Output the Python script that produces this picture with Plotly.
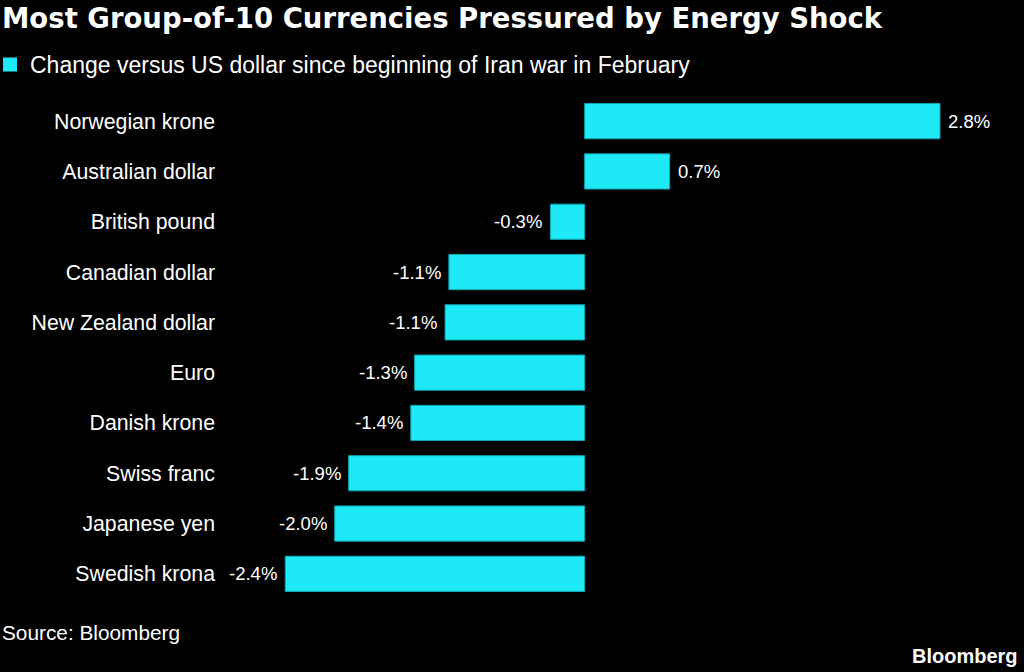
import plotly.graph_objects as go

categories = ["Norwegian krone", "Australian dollar", "British pound", "Canadian dollar",
              "New Zealand dollar", "Euro", "Danish krone", "Swiss franc",
              "Japanese yen", "Swedish krona"]
values = [2.80, 0.67, -0.27, -1.07, -1.10, -1.34, -1.37, -1.86, -1.97, -2.36]
labels = ["2.8%", "0.7%", "-0.3%", "-1.1%", "-1.1%", "-1.3%", "-1.4%", "-1.9%", "-2.0%", "-2.4%"]

W, H = 1024, 672
L, R, T, B = 230, 24, 96, 73
pw, ph = W - L - R, H - T - B

def px(x):
    return (x - L) / pw

def py(y):
    return 1 - (y - T) / ph

FONT = "Liberation Sans"
TFONT = "DejaVu Sans"
CYAN = "#1ee9f6"

fig = go.Figure(go.Bar(
    x=values, y=categories, orientation="h",
    marker=dict(color=CYAN, line=dict(color="#0fa6b3", width=1)),
    width=0.7, showlegend=False,
))

for v, c, t in zip(values, categories, labels):
    fig.add_annotation(x=v, y=c, xref="x", yref="y", text=t, showarrow=False,
                       xanchor="left" if v >= 0 else "right", yanchor="middle",
                       xshift=6 if v >= 0 else -6,
                       font=dict(size=18.5, color="white", family=FONT))

fig.update_layout(
    width=W, height=H,
    margin=dict(l=L, r=R, t=T, b=B),
    paper_bgcolor="black", plot_bgcolor="black",
    font=dict(family=FONT, color="white", size=20),
    xaxis=dict(range=[-2.795, 3.273], visible=False, showgrid=False, zeroline=False),
    yaxis=dict(autorange="reversed", showgrid=False, zeroline=False, showline=False,
               ticks="", tickfont=dict(size=21.3, color="white", family=FONT),
               ticklabelstandoff=14),
)

fig.add_annotation(text="<b>Most Group-of-10 Currencies Pressured by Energy Shock</b>",
                   xref="paper", yref="paper", x=px(0), y=py(18), xanchor="left", yanchor="middle",
                   showarrow=False, font=dict(size=27.5, color="white", family=TFONT))
fig.add_shape(type="rect", xref="paper", yref="paper",
              x0=px(3), x1=px(17), y0=py(57.5), y1=py(71.5),
              fillcolor=CYAN, line=dict(width=0))
fig.add_annotation(text="Change versus US dollar since beginning of Iran war in February",
                   xref="paper", yref="paper", x=px(28), y=py(65), xanchor="left", yanchor="middle",
                   showarrow=False, font=dict(size=23, color="white", family=FONT))
fig.add_annotation(text="Source: Bloomberg",
                   xref="paper", yref="paper", x=px(0), y=py(632), xanchor="left", yanchor="middle",
                   showarrow=False, font=dict(size=20.8, color="white", family=FONT))
fig.add_annotation(text="<b>Bloomberg</b>",
                   xref="paper", yref="paper", x=px(1020), y=py(656), xanchor="right", yanchor="middle",
                   showarrow=False, font=dict(size=20, color="white", family=FONT))

fig.write_html("out.html")
